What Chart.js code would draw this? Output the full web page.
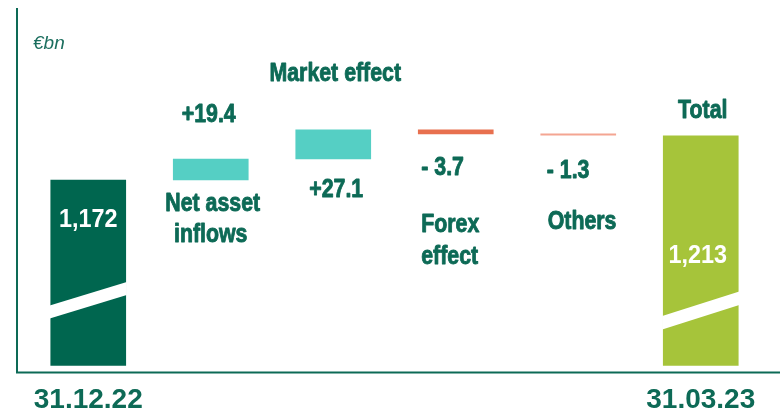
<!DOCTYPE html>
<html>
<head>
<meta charset="utf-8">
<script src="https://cdn.jsdelivr.net/npm/chart.js@4"></script>
<style>
  body { margin: 0; background: #fff; }
  #wrap { position: relative; width: 780px; height: 411px; }
</style>
</head>
<body>
<div id="wrap"><canvas id="bridge"></canvas></div>
<script>
// Assets under management bridge, €bn
var categories = ['31.12.22', ['Net asset', 'inflows'], 'Market effect', ['Forex', 'effect'], 'Others', '31.03.23'];
var openingStock = 1172;
var changes = [19.4, 27.1, -3.7, -1.3];
var closingStock = 1213;
var stockBase = 1000; // stock bars are cut, they start from here
var barColors = ['#00664f', '#55cfc4', '#55cfc4', '#e8704f', '#f4a592', '#a6c43a'];

var textGreen = '#0d6a56';
var labelFont = 'bold 26px "Liberation Sans", Arial, sans-serif';
var narrow = 0.82; // condensed look for the bar notes

// floating bars: stocks from the cut base, changes from the running total
var running = openingStock;
var bars = [[stockBase, openingStock]];
changes.forEach(function (c) {
  bars.push([running, running + c]);
  running += c;
});
bars.push([stockBase, closingStock]);

function fmtChange(c) {
  return (c > 0 ? '+' : '- ') + Math.abs(c).toFixed(1);
}
function fmtStock(v) {
  return v.toLocaleString('en-US');
}

// text placed around the bars: [bar, text, anchor, dy, align, dx, colour, squeeze]
var notes = [
  [0, fmtStock(openingStock), 'top', 47, 'center', 0, '#ffffff', 0.9],
  [1, fmtChange(changes[0]), 'top', -37, 'center', -2],
  [1, categories[1][0], 'bottom', 31, 'center', 2],
  [1, categories[1][1], 'bottom', 62, 'center', 0],
  [2, categories[2], 'top', -49, 'center', 2],
  [2, fmtChange(changes[1]), 'bottom', 38, 'center', 3],
  [3, fmtChange(changes[2]), 'bottom', 41, 'left', 3],
  [3, categories[3][0], 'bottom', 98, 'left', 3],
  [3, categories[3][1], 'bottom', 130, 'left', 3],
  [4, fmtChange(changes[3]), 'bottom', 43, 'left', 6],
  [4, categories[4], 'bottom', 94, 'left', 7],
  [5, 'Total', 'top', -18, 'center', 2],
  [5, fmtStock(closingStock), 'top', 127, 'center', -3, '#ffffff', 0.9]
];

var bridgeDecor = {
  id: 'bridgeDecor',
  afterDatasetsDraw: function (chart, args, opts) {
    var ctx = chart.ctx;
    var area = chart.chartArea;
    var meta = chart.getDatasetMeta(0);
    ctx.save();

    // axis frame
    ctx.strokeStyle = textGreen;
    ctx.lineWidth = 2;
    ctx.beginPath();
    ctx.moveTo(opts.frameLeft, area.top);
    ctx.lineTo(opts.frameLeft, area.bottom);
    ctx.lineTo(chart.width, area.bottom);
    ctx.stroke();

    // white cut across the stock bars
    ctx.fillStyle = '#ffffff';
    opts.cuts.forEach(function (cut) {
      var el = meta.data[cut.index];
      var l = el.x - el.width / 2, r = el.x + el.width / 2;
      var b = Math.max(el.y, el.base);
      ctx.beginPath();
      ctx.moveTo(l - 1, b - cut.lo);
      ctx.lineTo(r + 1, b - cut.lo - cut.rise);
      ctx.lineTo(r + 1, b - cut.lo - cut.rise - cut.gap);
      ctx.lineTo(l - 1, b - cut.lo - cut.gap);
      ctx.closePath();
      ctx.fill();
    });

    // unit
    ctx.font = 'italic 19px "Liberation Sans", Arial, sans-serif';
    ctx.fillStyle = '#1b6e5e';
    ctx.textAlign = 'left';
    ctx.textBaseline = 'alphabetic';
    ctx.fillText('€bn', opts.frameLeft + 16, 49);

    // bar notes (a thin outline keeps the squeezed glyphs heavy)
    ctx.font = labelFont;
    ctx.lineWidth = 0.9;
    ctx.lineJoin = 'round';
    notes.forEach(function (n) {
      var el = meta.data[n[0]];
      var top = Math.min(el.y, el.base), bottom = Math.max(el.y, el.base);
      var y = (n[2] === 'top' ? top : bottom) + n[3];
      var x = n[4] === 'left' ? el.x - el.width / 2 + n[5] : el.x + n[5];
      ctx.save();
      ctx.translate(x, y);
      ctx.scale(n[7] || narrow, 1);
      ctx.textAlign = n[4];
      ctx.fillStyle = n[6] || textGreen;
      ctx.strokeStyle = n[6] || textGreen;
      ctx.fillText(n[1], 0, 0);
      if (!n[6]) ctx.strokeText(n[1], 0, 0);
      ctx.restore();
    });
    ctx.restore();
  }
};

new Chart(document.getElementById('bridge'), {
  type: 'bar',
  data: {
    labels: categories,
    datasets: [{
      data: bars,
      backgroundColor: barColors,
      borderWidth: 0,
      borderSkipped: false,
      barThickness: 75,
      minBarLength: 1
    }]
  },
  options: {
    responsive: true,
    maintainAspectRatio: false,
    animation: false,
    layout: { padding: { left: 27, right: 18, top: 8, bottom: -17 } },
    plugins: {
      legend: { display: false },
      tooltip: { enabled: false },
      bridgeDecor: {
        frameLeft: 17,
        cuts: [
          { index: 0, lo: 47, rise: 23.5, gap: 13 },
          { index: 5, lo: 36, rise: 24.5, gap: 13.5 }
        ]
      }
    },
    scales: {
      x: {
        grid: { display: false, drawTicks: false },
        border: { display: false },
        ticks: {
          padding: 11,
          color: textGreen,
          font: { family: '"Liberation Sans", Arial, sans-serif', size: 28, weight: 'bold' },
          autoSkip: false,
          maxRotation: 0,
          callback: function (v, i) {
            return (i === 0 || i === categories.length - 1) ? categories[i] : '';
          }
        }
      },
      y: {
        display: false,
        min: 993.5,
        max: 1331.5
      }
    }
  },
  plugins: [bridgeDecor]
});
</script>
</body>
</html>
